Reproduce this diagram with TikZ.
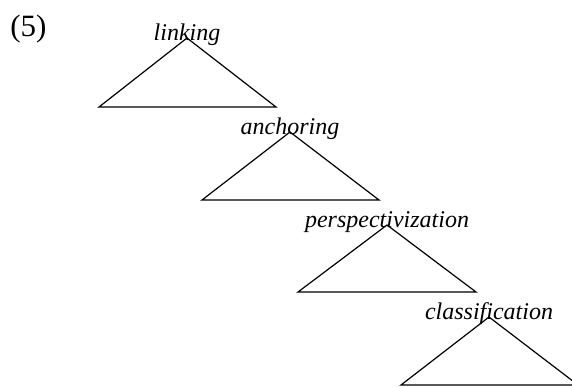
\documentclass[tikz,border=0pt]{standalone}
\usepackage{fontspec}
\setmainfont{Liberation Serif}

\begin{document}
\begin{tikzpicture}[
        x=0.5pt, y=-0.5pt, % units of half a point, y going down
        roof/.style = {draw, line width=0.6pt, line join=miter},
        lbl/.style = {anchor=base, inner sep=0pt, font=\itshape\fontsize{12}{14}\selectfont}, % label on top of a roof
        num/.style = {anchor=base west, inner sep=0pt, font=\fontsize{15.5}{18}\selectfont},
    ]
    \useasboundingbox (0,0) rectangle (572,387);

    \node[num] (ex) at (10,36) {(5)};

    % apexes of the roofs
    \coordinate (top1) at (187,38);
    \coordinate (top2) at (290,132);
    \coordinate (top3) at (387,225);
    \coordinate (top4) at (489,317);

    \node[lbl] (linking) at ([yshift=-1] top1) {linking};
    \node[lbl] (anchoring) at ([yshift=-1] top2) {anchoring};
    \node[lbl] (persp) at ([yshift=-1] top3) {perspectivization};
    \node[lbl] (classif) at ([yshift=-1] top4) {classification};

    \draw[roof] (top1) -- ++(-88,69) -- ++(177,0) -- cycle;
    \draw[roof] (top2) -- ++(-88,68) -- ++(177,0) -- cycle;
    \draw[roof] (top3) -- ++(-89,67) -- ++(178,0) -- cycle;
    \draw[roof] (top4) -- ++(-88,68) -- ++(177,0) -- cycle;
\end{tikzpicture}
\end{document}
